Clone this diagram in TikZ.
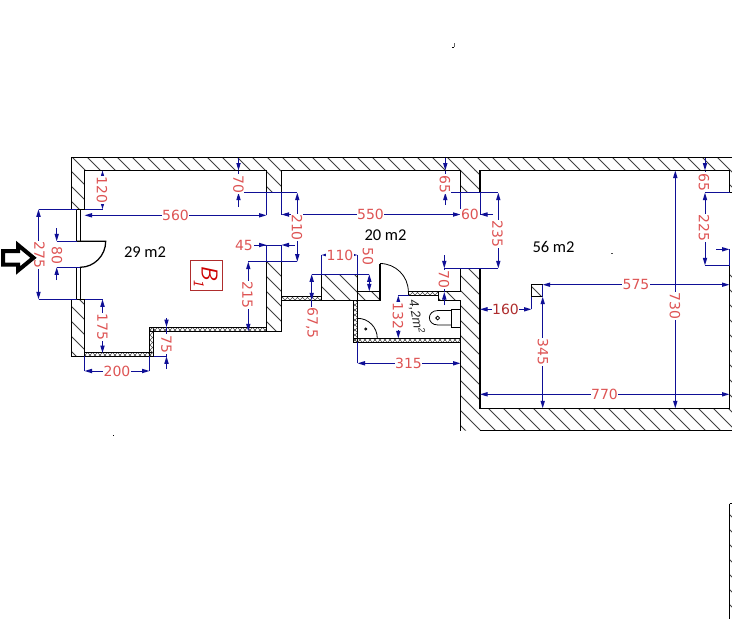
\documentclass[tikz,border=0pt]{standalone}
\usepackage{fontspec}
\usetikzlibrary{arrows.meta}
\newfontfamily\dimfont{DejaVu Sans}
\newfontfamily\roomfont{Carlito}
\newfontfamily\smallfont{Liberation Sans}
\definecolor{dimblue}{RGB}{15,15,150}
\definecolor{dimred}{RGB}{222,84,84}
\definecolor{darkred}{RGB}{175,45,45}
\tikzset{
  x=1pt,y=-1pt,
  wall/.style={black,line width=1.25pt},
  thinline/.style={black,line width=.8pt},
  hatchline/.style={black!75,line width=.75pt},
  dimline/.style={dimblue,line width=1pt},
  both/.style={dimline,{Triangle[length=7.5pt,width=4.2pt]}-{Triangle[length=7.5pt,width=4.2pt]}},
  tip/.style={dimline,-{Triangle[length=7.5pt,width=4.2pt]}},
  dimtext/.style={text=dimred,fill=white,inner sep=.6pt,font=\dimfont\fontsize{14}{14}\selectfont},
  vtext/.style={dimtext,rotate=-90},
  roomtext/.style={text=black,inner sep=0pt,font=\roomfont\fontsize{16.5}{17}\selectfont},
}
\newcommand{\hatchwall}[1]{%
  \begin{scope}\clip #1;
    \foreach \c in {-510,-495,...,750}{\draw[hatchline] (\c,100)--(\c+540,640);}
  \end{scope}}
\newcommand{\crosswall}[4]{%
  \begin{scope}\clip (#1,#2) rectangle (#3,#4);
    \foreach \c in {-480,-475,...,760}{\draw[black!70,line width=.5pt] (\c,100)--(\c+540,640);\draw[black!70,line width=.5pt] (\c,640)--(\c+540,100);}
  \end{scope}
  \draw[black,line width=.95pt] (#1,#2) rectangle (#3,#4);}
\begin{document}
\begin{tikzpicture}
\useasboundingbox (0,0) rectangle (732,619);
\fill[white] (0,0) rectangle (732,619);
% ---- hatching
\hatchwall{(71.5,157.5)--(732,157.5)--(732,170.5)--(84.5,170.5)--(84.5,209.3)--(71.5,209.3)--cycle}
\hatchwall{(71.5,299.3) rectangle (84.5,356.3)}
\hatchwall{(266.5,170.5) rectangle (281.5,192.7)}
\hatchwall{(460.5,170.5) rectangle (480,192.7)}
\hatchwall{(729.5,170.5) rectangle (732,192.7)}
\hatchwall{(266.5,261.7) rectangle (281.5,331.3)}
\hatchwall{(321.5,274.3)--(357.5,274.3)--(357.5,291.3)--(380,291.3)--(380,300.3)--(321.5,300.3)--cycle}
\hatchwall{(460.5,268.3)--(480,268.3)--(480,408.3)--(732,408.3)--(732,430.7)--(460.5,430.7)--(460.5,300.3)--(438.5,300.3)--(438.5,291.5)--(460.5,291.5)--cycle}
\hatchwall{(531.5,284.7) rectangle (542.5,296.7)}
\hatchwall{(729.5,265.3) rectangle (732,408.3)}
\hatchwall{(729.5,503.5) rectangle (732,619)}
% ---- thin cross-hatched walls
\crosswall{84.5}{352}{153.5}{356.3}
\crosswall{149.5}{327}{153.5}{356.3}
\crosswall{149.5}{327}{266.5}{331.3}
\crosswall{281.5}{296.3}{321.5}{300.3}
\crosswall{408.5}{291.5}{438.5}{295.5}
\crosswall{353.5}{300.3}{357.5}{342.3}
\crosswall{353.5}{338.3}{460.5}{342.3}
% ---- wall outlines
\draw[wall] (71.5,209.3)--(71.5,157.5)--(732,157.5);
\draw[wall] (84.5,209.3)--(84.5,170.5)--(266.5,170.5)--(266.5,192.7);
\draw[wall] (281.5,192.7)--(281.5,170.5)--(460.5,170.5)--(460.5,192.7);
\draw[wall] (480,192.7)--(480,170.5)--(729.5,170.5)--(729.5,192.7)--(732,192.7);
\draw[wall] (71.5,209.3)--(84.5,209.3);
\draw[wall] (71.5,299.3)--(84.5,299.3)--(84.5,352);
\draw[wall] (71.5,299.3)--(71.5,356.3)--(84.5,356.3);
\draw[wall] (266.5,331.3)--(266.5,261.7)--(281.5,261.7)--(281.5,331.3)--(266.5,331.3);
\draw[wall] (321.5,300.3)--(321.5,274.3)--(357.5,274.3)--(357.5,300.3);
\draw[wall] (321.5,300.3)--(380,300.3)--(380,263.5);
\draw[wall] (357.5,291.3)--(380,291.3);
\draw[wall] (438.5,295.5)--(438.5,300.3)--(460.5,300.3)--(460.5,430.7);
\draw[wall] (438.5,291.5)--(460.5,291.5)--(460.5,268.3)--(480,268.3)--(480,408.3)--(729.5,408.3)--(729.5,265.3);
\draw[wall] (480,430.7)--(732,430.7);
\draw[wall] (531.5,296.7) rectangle (542.5,284.7);
\draw[wall] (729.5,503.5)--(729.5,619);
\draw[wall] (729.5,503.5)--(732,503.5);
% ---- entrance door
\draw[thinline] (76.5,209.3) rectangle (80,241.3);
\draw[thinline] (76.5,267.3) rectangle (80,299.3);
\draw[wall] (76.5,241.3)--(105.7,241.3) .. controls (105.7,255.5) and (94.2,267.3) .. (80,267.3);
% ---- inner doors
\draw[thinline] (380,263.5) .. controls (395.5,263.5) and (408.3,276) .. (408.3,291.5);
\draw[thinline] (357.5,318.3) .. controls (368.5,318.3) and (377.3,327.3) .. (377.3,338.3);
\draw[thinline] (365.7,329) circle (1.1);
% ---- toilet
\draw[thinline] (451,309) rectangle (460.5,327.3);
\draw[thinline] (451,310.5)--(438,310.5) .. controls (426.5,310.5) and (426.5,325) .. (438,325)--(451,325);
\draw[thinline] (437.7,318) circle (1.9);
% ---- extension lines
\draw[dimline] (84.5,209.3)--(102.5,209.3);
\draw[dimline] (38.5,209.3)--(76.5,209.3);
\draw[dimline] (38.5,299.3)--(76.5,299.3);
\draw[dimline] (56.7,241.3)--(76.5,241.3);
\draw[dimline] (56.7,267.3)--(80,267.3);
\draw[dimline] (84.5,299.3)--(102.5,299.3);
\draw[dimline] (153.5,356.3)--(166.5,356.3);
\draw[dimline] (84.5,356.3)--(84.5,371);
\draw[dimline] (149.5,356.3)--(149.5,371);
\draw[dimline] (238.5,192.7)--(297.3,192.7);
\draw[dimline] (266.5,192.7)--(266.5,215.3);
\draw[dimline] (281.5,192.7)--(281.5,214.5);
\draw[dimline] (460.5,192.7)--(460.5,214.5);
\draw[dimline] (480,192.7)--(480,214.5);
\draw[dimline] (445.3,192.7)--(498.3,192.7);
\draw[dimline] (266.5,245)--(266.5,261.7);
\draw[dimline] (281.5,245)--(281.5,261.7);
\draw[dimline] (248.3,261.7)--(297.3,261.7);
\draw[dimline] (321.5,255)--(321.5,274.3);
\draw[dimline] (357.5,255)--(357.5,274.3);
\draw[dimline] (311.7,274.3)--(369.3,274.3);
\draw[dimline] (444.3,268.3)--(498.3,268.3);
\draw[dimline] (398.3,295.5)--(408.5,295.5);
\draw[dimline] (357.5,342.3)--(357.5,363.3);
\draw[dimline] (531.5,296.7)--(531.5,309.3);
\draw[dimline] (705,192.7)--(729.5,192.7);
\draw[dimline] (705,265.3)--(729.5,265.3);
\draw[dimline] (729.5,249.3)--(729.5,265.3);
% ---- dimension lines
\draw[both] (102.5,170.5)--(102.5,209.3);
\draw[both] (84.5,215.3)--(266.5,215.3);
\draw[both] (38.5,209.3)--(38.5,299.3);
\draw[tip] (56.7,228)--(56.7,241.3);
\draw[tip] (56.7,280)--(56.7,267.3);
\draw[both] (102.5,299.3)--(102.5,353);
\draw[tip] (166.5,318)--(166.5,327);
\draw[tip] (166.5,369)--(166.5,356.3);
\draw[dimline] (166.5,327)--(166.5,356.3);
\draw[both] (84.5,371)--(149.5,371);
\draw[tip] (238.5,157.5)--(238.5,170.5);
\draw[tip] (238.5,207)--(238.5,192.7);
\draw[dimline] (238.5,170.5)--(238.5,192.7);
\draw[tip] (252,245)--(266.5,245);
\draw[tip] (295,245)--(281.5,245);
\draw[dimline] (252,245)--(281.5,245);
\draw[both] (248.3,261.7)--(248.3,331.3);
\draw[both] (297.3,192.7)--(297.3,261.7);
\draw[both] (281.5,214.5)--(460.5,214.5);
\draw[tip] (493,214.5)--(480,214.5);
\draw[tip] (445.3,157.5)--(445.3,170.5);
\draw[tip] (445.3,205)--(445.3,192.7);
\draw[dimline] (445.3,170.5)--(445.3,192.7);
\draw[both] (498.3,192.7)--(498.3,268.3);
\draw[tip] (444.3,255)--(444.3,268.3);
\draw[tip] (444.3,305)--(444.3,292);
\draw[dimline] (444.3,268.3)--(444.3,292);
\draw[both] (321.5,255)--(357.5,255);
\draw[both] (369.3,274.3)--(369.3,291.3);
\draw[tip] (311.7,292)--(311.7,274.3);
\draw[tip] (311.7,288)--(311.7,300.3);
\draw[dimline] (311.7,300.3)--(311.7,316);
\draw[both] (357.5,363.3)--(460.5,363.3);
\draw[both] (398.3,295.5)--(398.3,338.3);
\draw[both] (480,309.3)--(531.5,309.3);
\draw[both] (542.7,284.7)--(729.5,284.7);
\draw[both] (542.7,296.7)--(542.7,408.3);
\draw[dimline] (542.7,284.7)--(542.7,296.7);
\draw[both] (675.3,170.5)--(675.3,408.3);
\draw[both] (480,394.3)--(729.5,394.3);
\draw[tip] (705,157.5)--(705,170.5);
\draw[both] (705,192.7)--(705,265.3);
\draw[dimline] (705,170.5)--(705,192.7);
\draw[tip] (716,249.3)--(729.5,249.3);
% ---- dimension labels
\node[vtext] (d120) at (102,190) {120};
\node[dimtext] (d560) at (175.5,215.3) {560};
\node[vtext] (d275) at (39.5,255) {275};
\node[vtext] (d80) at (57,255) {80};
\node[vtext] (d175) at (102.5,327) {175};
\node[vtext] (d75) at (166.5,344) {75};
\node[dimtext] (d200) at (117,371) {200};
\node[vtext] (d70a) at (238.5,184) {70};
\node[dimtext] (d45) at (244,245) {45};
\node[vtext] (d215) at (247.5,295) {215};
\node[vtext] (d210) at (297,227.5) {210};
\node[dimtext] (d550) at (370.5,214.5) {550};
\node[dimtext] (d60) at (470,214.5) {60};
\node[vtext] (d65a) at (445,184) {65};
\node[vtext] (d235) at (497.5,234) {235};
\node[vtext] (d70b) at (444,279.5) {70};
\node[dimtext] (d110) at (340,255) {110};
\node[vtext] (d50) at (368,256) {50};
\node[vtext] (d675) at (312,323) {67,5};
\node[dimtext] (d315) at (408.5,363.3) {315};
\node[vtext] (d132) at (398,316) {132};
\node[dimtext,text=darkred] (d160) at (505.5,309.3) {160};
\node[dimtext] (d575) at (636,284.7) {575};
\node[vtext] (d345) at (543,352) {345};
\node[vtext] (d730) at (675,306) {730};
\node[dimtext] (d770) at (604.5,394.3) {770};
\node[vtext] (d65b) at (704,182) {65};
\node[vtext] (d225) at (704,228) {225};
% ---- room labels
\node[roomtext] (r29) at (145,252) {29 m2};
\node[roomtext] (r20) at (385.5,235) {20 m2};
\node[roomtext] (r56) at (553.5,247) {56 m2};
\node[rotate=-80,inner sep=0pt,text=black!85,font=\smallfont\itshape\fontsize{13}{13}\selectfont] (wc) at (416.5,317) {4,2m\textsuperscript{2}};
% ---- unit tag
\draw[darkred,line width=1pt] (190.5,260.3) rectangle (222.5,290.7);
\node[rotate=-90,inner sep=0pt,text=red!80!black,font=\sffamily\itshape\fontsize{23}{23}\selectfont] (b1) at (209.5,273) {B};
\node[rotate=-90,inner sep=0pt,text=red!80!black,font=\sffamily\itshape\fontsize{15}{15}\selectfont] (b1s) at (199,283) {1};
% ---- entrance arrow
\draw[black,line width=4pt,fill=white,line join=miter] (3,251)--(18,251)--(18,245)--(33.5,257.8)--(18,270.5)--(18,264.5)--(3,264.5)--cycle;
% ---- stray specks
\fill[black!60] (453.6,43) rectangle (454.4,47);
\fill[black] (452,47) rectangle (454,47.8);
\fill[black] (113,434.6) rectangle (114,435.6);
\fill[black!70] (611,252.6) rectangle (613,253.4);
\end{tikzpicture}
\end{document}
